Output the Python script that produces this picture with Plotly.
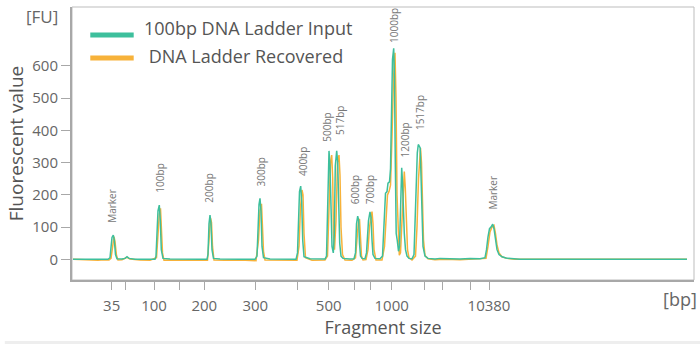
import plotly.graph_objects as go

# ---------------- data ----------------
# migration position (arbitrary units) and fluorescence [FU]
input_pos = [73, 90, 100, 108, 110, 111, 112, 113.3, 114.3, 115.5, 117, 122, 125, 127, 129, 135, 145, 155,
             156, 157, 158, 159.3, 160.3, 161.3, 163, 170, 180, 190, 200, 207, 208, 209, 210, 211, 212, 213.5,
             220, 240, 255, 257, 258, 259, 260, 261, 262, 263.5, 270, 285, 296, 297.5, 298.5, 299.5, 300.7,
             301.7, 302.7, 304, 310, 320, 325, 326.5, 327.5, 328.3, 329, 330, 331, 332, 333.3, 334.3, 335.3,
             336.7, 337.7, 338.7, 339.7, 341, 343, 350, 354, 355.5, 356.5, 357.7, 358.7, 359.5, 360.5, 362,
             365, 366.5, 367.5, 368.5, 370, 371, 372, 373, 375, 380, 382.5, 383.5, 384.5, 385.5, 387, 388,
             389.5, 390.5, 391.5, 392.5, 393.7, 394.5, 395.3, 396.2, 397.2, 398.5, 399.5, 400.5, 401.7, 402.5,
             403.3, 404.3, 405.5, 407, 409, 412, 414, 415, 416, 417.3, 418.3, 419.3, 420.2, 421, 422, 423, 425,
             428, 435, 440, 450, 460, 470, 480, 485, 486.5, 488, 489.5, 491, 492.7, 494, 495.5, 497, 499, 502,
             506, 513, 520, 600, 687]
input_fu = [0, 0, 1, 0, 5, 30, 68, 75, 60, 15, 2, 1, 3, 8, 3, 0, 0, 0,
            10, 90, 150, 168, 120, 30, 3, 1, 0, 1, 0, 0, 15, 110, 137, 110, 30, 3,
            1, 0, 0, 10, 120, 170, 189, 150, 40, 5, 1, 0, 0, 20, 90, 210, 227,
            180, 60, 8, 2, 0, 1, 10, 180, 300, 336, 290, 150, 40, 20, 80, 290,
            336, 300, 150, 50, 10, 3, 1, 2, 20, 110, 134, 120, 50, 10, 3,
            2, 20, 80, 120, 147, 130, 60, 15, 3, 2, 10, 90, 170, 205, 210, 236,
            240, 280, 450, 620, 654, 560, 300, 80, 60, 25, 40, 200, 284, 240,
            150, 80, 30, 10, 3, 2, 15, 120, 250, 330, 356, 350, 345, 260, 120, 40, 10,
            3, 1, 3, 2, 1, 3, 2, 5, 30, 70, 95, 100, 109, 95, 60, 30, 15, 8,
            4, 2, 0, 0, 0]

recovered_pos = [73, 85, 92, 98, 104, 109, 111, 112.5, 114, 115, 116.5, 118, 122, 127, 130, 140, 150,
                 156.5, 158, 159.3, 160.5, 161.5, 162.5, 164, 172, 185, 200, 207.5, 209, 210.5, 211.5, 212.5,
                 214, 225, 240, 256, 258.5, 260, 261.5, 262.5, 263.5, 265, 275, 285, 297, 299, 300.5, 302,
                 303, 304, 305.5, 312, 325, 327.5, 329, 330.5, 331.7, 332.7, 333.5, 334.5, 336, 337.5, 339,
                 340, 341, 342.5, 345, 352, 355.5, 357, 358.5, 359.5, 360.5, 361.5, 363, 366, 368, 369.5, 371,
                 372, 373, 374, 376, 382, 384.5, 386, 387.5, 389, 390.5, 392, 393.5, 395, 396, 397, 398.2,
                 399.3, 400.5, 402, 403.3, 404.3, 405.3, 406.3, 407.5, 409, 412, 415.5, 417, 418.5, 419.5,
                 420.5, 421.5, 422.5, 423.5, 425, 428, 435, 445, 460, 475, 486, 488, 490, 492, 494, 495.5,
                 497, 499, 502, 507, 515, 600, 687]
recovered_fu = [0, -2, -4, -3, -1, -2, 3, 40, 70, 55, 12, -2, -1, 6, 1, -2, -3,
                5, 70, 140, 158, 100, 20, -3, -2, -3, -2, -3, 60, 128, 115, 40,
                -2, -3, -2, -4, 60, 150, 172, 110, 25, -2, -3, -4, -3, 40, 160, 215,
                200, 80, 5, -3, -2, 10, 150, 300, 323, 250, 80, 30, 120, 300, 323,
                260, 100, 15, -2, -3, 5, 70, 120, 125, 60, 10, -2, -1, 30, 100, 130,
                148, 110, 30, -2, -2, 40, 140, 200, 210, 230, 380, 560, 640, 500, 200, 60,
                13, 20, 120, 240, 272, 220, 100, 30, 5, -2, 10, 100, 250, 320,
                345, 300, 180, 60, 12, 2, -1, 0, -1, 0, 3, 40, 85, 100, 105, 80,
                45, 20, 8, 3, 0, 0, 0]

peak_labels = ["Marker", "100bp", "200bp", "300bp", "400bp", "500bp", "517bp", "600bp",
               "700bp", "1000bp", "1200bp", "1517bp", "Marker"]
peak_label_pos = [111.7, 160, 209, 260, 302.5, 326.7, 340.7, 355, 370, 393.3, 405, 420.7, 492.7]
peak_label_fu = [106, 199, 168, 218, 252, 359, 380, 163, 163, 664, 308, 395, 147]

tick_positions = [111.7, 125, 154, 179, 204.3, 255.3, 297.3, 328.7, 354, 370.7, 391.7, 424.3, 442, 470, 489]
tick_labels = ["35", "", "100", "", "200", "300", "", "500", "", "", "1000", "", "", "", "10380"]

y_ticks = [0, 100, 200, 300, 400, 500, 600]

series_names = ["100bp DNA Ladder Input", "DNA Ladder Recovered"]
GREEN = "#3dbf9c"
ORANGE = "#f7b23a"

FONT = "Open Sans"
TEXT_GREY = "#666666"
AXIS_GREY = "#a8a8a8"

# ---------------- figure ----------------
fig = go.Figure()
fig.add_trace(go.Scatter(x=recovered_pos, y=recovered_fu, mode="lines", name=series_names[1],
                         line=dict(color=ORANGE, width=1.5), showlegend=False))
fig.add_trace(go.Scatter(x=input_pos, y=input_fu, mode="lines", name=series_names[0],
                         line=dict(color=GREEN, width=1.5), showlegend=False))

annotations = []
for txt, px, fu in zip(peak_labels, peak_label_pos, peak_label_fu):
    annotations.append(dict(x=px, y=fu, xref="x", yref="y", text=txt, showarrow=False,
                            textangle=-90, xanchor="center", yanchor="bottom",
                            font=dict(family=FONT, size=10, color="#777777")))

# legend (custom, to match long thick swatches)
legend_rows = [(0.897, 0.922, 0.1125, series_names[0], GREEN),
               (0.813, 0.819, 0.1125, "&nbsp;" + series_names[1], ORANGE)]
shapes = []
for sy, ty, tx, name, col in legend_rows:
    shapes.append(dict(type="line", xref="paper", yref="paper", x0=0.0294, x1=0.0992, y0=sy, y1=sy,
                       line=dict(color=col, width=5)))
    annotations.append(dict(x=tx, y=ty, xref="paper", yref="paper", text=name, showarrow=False,
                            xanchor="left", yanchor="middle",
                            font=dict(family=FONT, size=18, color="#555555")))

# frame (top/right thin border)
shapes.append(dict(type="rect", xref="paper", yref="paper", x0=0, x1=1, y0=0, y1=1,
                   line=dict(color="#bdbdbd", width=1), layer="below"))
# light strip at the bottom of the page
shapes.append(dict(type="rect", xref="paper", yref="paper", x0=-0.108, x1=1.02, y0=-0.2344, y1=-0.2234,
                   line=dict(width=0), fillcolor="#eeeeee", layer="below"))

annotations.append(dict(x=-0.019, y=0.967, xref="paper", yref="paper", text="[FU]", showarrow=False,
                        xanchor="right", yanchor="middle", font=dict(family=FONT, size=17, color=TEXT_GREY)))
annotations.append(dict(x=1.008, y=-0.0696, xref="paper", yref="paper", text="[bp]", showarrow=False,
                        xanchor="right", yanchor="middle", font=dict(family=FONT, size=18, color=TEXT_GREY)))

fig.update_layout(
    width=700, height=344,
    margin=dict(l=72, r=6, t=7, b=64, autoexpand=False),
    paper_bgcolor="white", plot_bgcolor="white",
    font=dict(family=FONT, color=TEXT_GREY),
    annotations=annotations, shapes=shapes,
    showlegend=False,
)
fig.update_xaxes(range=[72, 694], tickmode="array", tickvals=tick_positions, ticktext=tick_labels,
                 ticks="outside", ticklen=8, tickwidth=1.2, tickcolor=AXIS_GREY, automargin=False,
                 ticklabelstandoff=3,
                 showline=True, linewidth=2, linecolor=AXIS_GREY, showgrid=False, zeroline=False,
                 tickfont=dict(family=FONT, size=15, color=TEXT_GREY),
                 title=dict(text="Fragment size", font=dict(family=FONT, size=18, color="#555555"), standoff=2))
fig.update_yaxes(range=[-64, 782], tickmode="array", tickvals=y_ticks,
                 ticks="outside", ticklen=9, tickwidth=1.2, tickcolor=AXIS_GREY, automargin=False,
                 showline=True, linewidth=2, linecolor=AXIS_GREY, showgrid=False, zeroline=False,
                 tickfont=dict(family=FONT, size=15, color=TEXT_GREY),
                 title=dict(text="Fluorescent value", font=dict(family=FONT, size=19, color="#555555"), standoff=4))

fig.write_html("out.html", config={"displayModeBar": False},
               post_script="document.body.style.margin='0';document.body.style.overflow='hidden';")
